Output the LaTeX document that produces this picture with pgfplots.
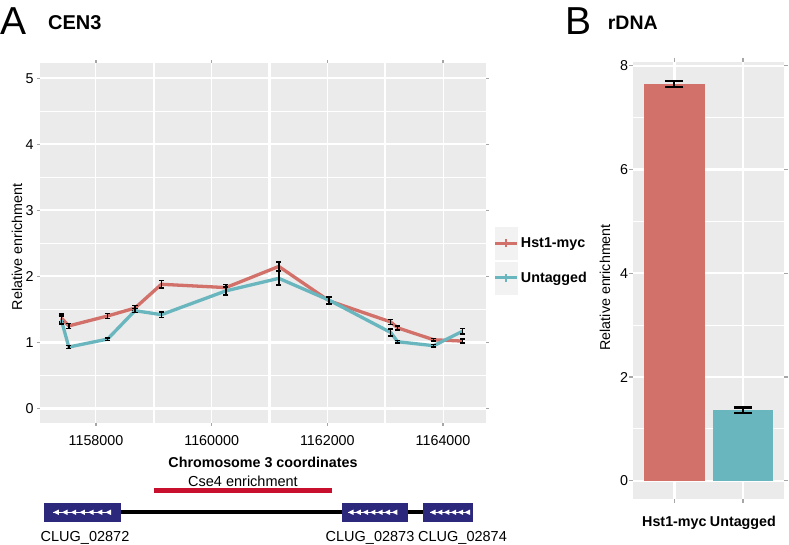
\documentclass[border=0pt]{standalone}
\usepackage{fontspec}
\setmainfont{Liberation Sans}
\usepackage{pgfplots}
\usepackage{pgfplotstable}
\pgfplotsset{compat=1.18}
\definecolor{hred}{RGB}{210,112,106}
\definecolor{hteal}{RGB}{106,182,190}
\definecolor{gbg}{RGB}{235,235,235}
\definecolor{legbg}{RGB}{242,242,242}
\definecolor{navy}{RGB}{44,40,124}
\definecolor{cse}{RGB}{200,16,46}

\pgfplotstableread{
x y e
1157400 1.37 0.06
1157530 1.25 0.04
1158200 1.40 0.04
1158674 1.52 0.04
1159131 1.88 0.06
1160245 1.83 0.05
1161161 2.15 0.07
1162029 1.63 0.05
1163095 1.31 0.04
1163216 1.22 0.03
1163838 1.04 0.02
1164339 1.02 0.03
}\hst
\pgfplotstableread{
x y e
1157400 1.34 0.06
1157530 0.93 0.02
1158200 1.05 0.02
1158674 1.48 0.03
1159131 1.42 0.04
1160245 1.78 0.06
1161161 1.97 0.10
1162029 1.64 0.05
1163095 1.15 0.05
1163216 1.01 0.02
1163838 0.95 0.02
1164339 1.17 0.04
}\unt

\begin{document}
\begin{tikzpicture}[x=1pt,y=1pt]
\useasboundingbox (0pt,0pt) rectangle (789pt,545pt);
\begin{axis}[
  at={(40pt,122pt)}, anchor=south west, scale only axis,
  width=446pt, height=360pt,
  xmin=1157032, xmax=1164743, ymin=-0.22, ymax=5.23,
  scaled x ticks=false,
  axis background/.style={fill=gbg},
  axis line style={draw=none},
  font=\fontsize{14.3}{16}\selectfont,
  /pgf/number format/assume math mode=true,
  xtick={1158000,1160000,1162000,1164000},
  xticklabels={1158000,1160000,1162000,1164000},
  minor xtick={1158000,1159000,1160000,1161000,1162000,1163000,1164000},
  extra x ticks={1159000,1161000,1163000},
  extra x tick labels={},
  extra x tick style={grid=major, major tick length=0pt},
  ytick={0,1,2,3,4,5},
  minor ytick={0.5,1.5,2.5,3.5,4.5},
  xmajorgrids=false, xminorgrids=true,
  ymajorgrids=true, yminorgrids=true,
  major grid style={white, line width=2.2pt},
  minor grid style={white, line width=1pt},
  tick align=outside, major tick length=3pt, minor tick length=0pt,
  tick style={gray!70, line width=1.2pt},
  xticklabel style={yshift=-6pt},
  ylabel={Relative enrichment},
  ylabel style={at={(axis description cs:-0.0516,0.489)}, anchor=center},
  xlabel={\bfseries Chromosome 3 coordinates},
  xlabel style={at={(axis description cs:0.5,-0.11)}, anchor=center},
  clip=false,
  legend style={at={(axis description cs:1.01,0.55)}, anchor=north west,
    draw=none, fill=none, font=\fontsize{14.3}{16}\selectfont\bfseries,
    row sep=2pt, nodes={inner sep=2pt}},
  legend cell align=left,
]
\addplot[hred, line width=3.3pt, forget plot,
  error bars/.cd, y dir=both, y explicit,
  error bar style={black, line width=1.5pt},
  error mark options={black, rotate=90, mark size=2.6pt, line width=1.5pt}]
  table[x=x, y=y, y error=e]{\hst};
\addplot[hteal, line width=3.3pt, forget plot,
  error bars/.cd, y dir=both, y explicit,
  error bar style={black, line width=1.5pt},
  error mark options={black, rotate=90, mark size=2.6pt, line width=1.5pt}]
  table[x=x, y=y, y error=e]{\unt};
\addlegendimage{legend image code/.code={
  \fill[legbg] (-2pt,-16pt) rectangle (20pt,16pt);
  \draw[hred, line width=3.3pt] (-2pt,0pt) -- (20pt,0pt);
  \draw[hred, line width=2pt] (9pt,-4pt) -- (9pt,4pt);}}
\addlegendentry{Hst1-myc}
\addlegendimage{legend image code/.code={
  \fill[legbg] (-2pt,-16pt) rectangle (20pt,16pt);
  \draw[hteal, line width=3.3pt] (-2pt,0pt) -- (20pt,0pt);
  \draw[hteal, line width=2pt] (9pt,-4pt) -- (9pt,4pt);}}
\addlegendentry{Untagged}
\end{axis}

\begin{axis}[
  at={(633.3pt,46pt)}, anchor=south west, scale only axis,
  width=150.7pt, height=437.3pt,
  xmin=0.4, xmax=2.6, ymin=-0.35, ymax=8.08,
  axis background/.style={fill=gbg},
  axis line style={draw=none},
  font=\fontsize{14.3}{16}\selectfont,
  /pgf/number format/assume math mode=true,
  xtick={1,2},
  xticklabels={\bfseries Hst1-myc, \bfseries Untagged},
  ytick={0,2,4,6,8},
  minor ytick={1,3,5,7},
  xmajorgrids=true, ymajorgrids=true, yminorgrids=true,
  major grid style={white, line width=2.2pt},
  minor grid style={white, line width=1pt},
  tick align=outside, major tick length=4pt, minor tick length=0pt,
  tick style={gray!70, line width=1.2pt},
  yticklabel style={inner sep=1pt},
  xticklabel style={yshift=-10pt},
  ylabel={Relative enrichment},
  ylabel style={at={(axis description cs:-0.188,0.484)}, anchor=center},
]
\addplot[ybar, bar width=0.88, bar shift=0pt, fill=hred, draw=none,
  error bars/.cd, y dir=both, y explicit,
  error bar style={black, line width=2pt},
  error mark options={black, rotate=90, mark size=9pt, line width=2.5pt}]
  coordinates {(1,7.65) +- (0,0.06)};
\addplot[ybar, bar width=0.88, bar shift=0pt, fill=hteal, draw=none,
  error bars/.cd, y dir=both, y explicit,
  error bar style={black, line width=2pt},
  error mark options={black, rotate=90, mark size=9pt, line width=2.5pt}]
  coordinates {(2,1.36) +- (0,0.05)};
\end{axis}

% titles
\node[anchor=base west, inner sep=0, font=\fontsize{39}{40}\selectfont] at (0pt,510pt) {A};
\node[anchor=base west, inner sep=0, font=\fontsize{20}{22}\selectfont\bfseries] at (48pt,515pt) {CEN3};
\node[anchor=base west, inner sep=0, font=\fontsize{39}{40}\selectfont] at (565pt,510.7pt) {B};
\node[anchor=base west, inner sep=0, font=\fontsize{19.5}{22}\selectfont\bfseries] at (607.7pt,515pt) {rDNA};

% gene annotation
\draw[black, line width=4.3pt] (120.7pt,32.7pt) -- (423.3pt,32.7pt);
\fill[navy] (44pt,23pt) rectangle (120.7pt,42.3pt);
\fill[navy] (342.3pt,23pt) rectangle (408.3pt,42.3pt);
\fill[navy] (423.3pt,23pt) rectangle (473.3pt,42.3pt);
\draw[white, line width=0.9pt] (53.3pt,32.7pt) -- (111pt,32.7pt);
\draw[white, line width=0.9pt] (348pt,32.7pt) -- (397.3pt,32.7pt);
\draw[white, line width=0.9pt] (430pt,32.7pt) -- (470pt,32.7pt);
\foreach \x in {53.3,62,70.7,79.4,88.1,96.8,105.5,348,355.3,362.6,369.9,377.2,384.5,391.8,430,436.9,443.8,450.7,457.6,464.5}
  \fill[white] (\x pt,32.7pt) -- ++(5.5pt,2.7pt) -- ++(0pt,-5.4pt) -- cycle;
\draw[cse, line width=4.4pt] (154pt,54.5pt) -- (332.3pt,54.5pt);
\node[anchor=base, inner sep=0, font=\fontsize{14.5}{16}\selectfont] at (243pt,58pt) {Cse4 enrichment};
\node[anchor=base, inner sep=0, font=\fontsize{14.5}{16}\selectfont] at (85pt,3pt) {CLUG\_02872};
\node[anchor=base, inner sep=0, font=\fontsize{14.5}{16}\selectfont] at (370pt,3pt) {CLUG\_02873};
\node[anchor=base west, inner sep=0, font=\fontsize{14.5}{16}\selectfont] at (418pt,3pt) {CLUG\_02874};
\end{tikzpicture}
\end{document}
